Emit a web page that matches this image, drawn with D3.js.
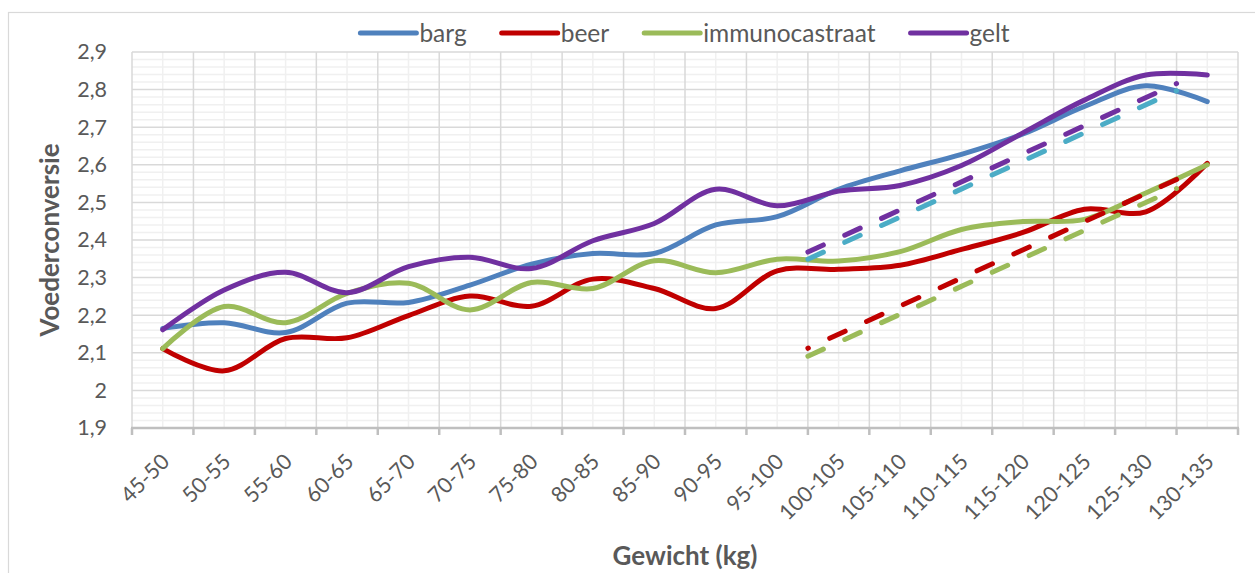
<!DOCTYPE html>
<html>
<head>
<meta charset="utf-8">
<script src="https://cdn.jsdelivr.net/npm/d3@7"></script>
<style>
	body { margin: 0; background: #fff; }
	svg { display: block; font-family: Lato, "Open Sans", sans-serif; }
</style>
</head>
<body>
<svg id="chart" width="1255" height="573"></svg>
<script>
const categories = ["45-50", "50-55", "55-60", "60-65", "65-70", "70-75", "75-80", "80-85", "85-90",
	"90-95", "95-100", "100-105", "105-110", "110-115", "115-120", "120-125", "125-130", "130-135"];

const barg = [2.165, 2.18, 2.154, 2.232, 2.234, 2.28, 2.336, 2.364, 2.364, 2.44, 2.462, 2.535,
	2.584, 2.628, 2.682, 2.755, 2.81, 2.768];
const beer = [2.111, 2.052, 2.138, 2.14, 2.199, 2.251, 2.224, 2.296, 2.271, 2.218, 2.318, 2.322,
	2.333, 2.375, 2.42, 2.482, 2.475, 2.604];
const immunocastraat = [2.111, 2.223, 2.18, 2.258, 2.285, 2.214, 2.287, 2.271, 2.345, 2.313, 2.349, 2.344,
	2.369, 2.428, 2.449, 2.455, 2.525, 2.6];
const gelt = [2.161, 2.267, 2.314, 2.26, 2.329, 2.354, 2.324, 2.398, 2.444, 2.535, 2.491, 2.53,
	2.545, 2.598, 2.685, 2.772, 2.839, 2.839];

// dashed lines: from start of "100-105" to end of "125-130"
const trendFrom = "100-105";
const trendTo = "125-130";
const trendGelt = [2.368, 2.816];
const trendBarg = [2.349, 2.797];
const trendBeer = [2.112, 2.561];
const trendImmuno = [2.091, 2.537];

const yTicks = [1.9, 2.0, 2.1, 2.2, 2.3, 2.4, 2.5, 2.6, 2.7, 2.8, 2.9];

const colors = {
	barg: "#4f81bd",
	beer: "#c00000",
	immunocastraat: "#9bbb59",
	gelt: "#7030a0",
	cyan: "#4bacc6"
};
const textColor = "#595959";

const series = [
	{ name: "barg", values: barg, color: colors.barg },
	{ name: "beer", values: beer, color: colors.beer },
	{ name: "immunocastraat", values: immunocastraat, color: colors.immunocastraat },
	{ name: "gelt", values: gelt, color: colors.gelt }
];

const trends = [
	{ values: trendGelt, color: colors.gelt, offset: 0 },
	{ values: trendBarg, color: colors.cyan, offset: 0 },
	{ values: trendBeer, color: colors.beer, offset: 16.5 },
	{ values: trendImmuno, color: colors.immunocastraat, offset: 0 }
];

const svg = d3.select("#chart");

const x = d3.scaleBand().domain(categories).range([132, 1238]);
const y = d3.scaleLinear().domain([1.9, 2.9]).range([428, 52]);
const mid = c => x(c) + x.bandwidth() / 2;
const [left, right] = x.range();

const locale = d3.formatLocale({ decimal: ",", thousands: ".", grouping: [3], currency: ["€", ""] });
const fmt = locale.format(".2~f");

// outer frame
svg.append("rect")
	.attr("x", 8.5).attr("y", 12.5)
	.attr("width", 1400).attr("height", 700)
	.attr("fill", "none")
	.attr("stroke", "#d9d9d9")
	.attr("stroke-width", 1.2);

// minor grid
const grid = svg.append("g");
const minorY = d3.range(0, 51).filter(i => i % 5 !== 0).map(i => 1.9 + i * 0.02);
grid.selectAll(null).data(minorY).enter().append("line")
	.attr("x1", left).attr("x2", right)
	.attr("y1", d => y(d)).attr("y2", d => y(d))
	.attr("stroke", "#f0f0f0").attr("stroke-width", 1.5);
grid.selectAll(null).data(categories).enter().append("line")
	.attr("x1", d => mid(d)).attr("x2", d => mid(d))
	.attr("y1", y(1.9)).attr("y2", y(2.9))
	.attr("stroke", "#f0f0f0").attr("stroke-width", 1.5);

// major grid
grid.selectAll(null).data(yTicks).enter().append("line")
	.attr("x1", left).attr("x2", right)
	.attr("y1", d => y(d)).attr("y2", d => y(d))
	.attr("stroke", "#d9d9d9").attr("stroke-width", 1.5);
const bounds = categories.map(c => x(c)).concat([right]);
grid.selectAll(null).data(bounds).enter().append("line")
	.attr("x1", d => d).attr("x2", d => d)
	.attr("y1", y(1.9)).attr("y2", y(2.9))
	.attr("stroke", "#d9d9d9").attr("stroke-width", 1.5);

// x axis line + ticks
svg.append("line")
	.attr("x1", left - 1).attr("x2", right + 1)
	.attr("y1", y(1.9)).attr("y2", y(1.9))
	.attr("stroke", "#bfbfbf").attr("stroke-width", 2.5);
svg.selectAll(null).data(bounds).enter().append("line")
	.attr("x1", d => d).attr("x2", d => d)
	.attr("y1", y(1.9)).attr("y2", y(1.9) + 7)
	.attr("stroke", "#bfbfbf").attr("stroke-width", 2.5);

// y labels
const yAxis = svg.append("g")
	.attr("transform", "translate(107,0)")
	.call(d3.axisLeft(y).tickValues(yTicks).tickFormat(fmt).tickSize(0).tickPadding(0));
yAxis.select(".domain").remove();
yAxis.selectAll("text")
	.attr("font-family", "Lato, sans-serif")
	.attr("font-size", 21.5)
	.attr("fill", textColor);

// x labels
const xAxis = svg.append("g")
	.attr("transform", `translate(0,${y(1.9)})`)
	.call(d3.axisBottom(x).tickSize(0));
xAxis.select(".domain").remove();
xAxis.selectAll("text")
	.attr("x", 0).attr("y", 0).attr("dy", 0)
	.attr("text-anchor", "end")
	.attr("transform", "translate(8,35) rotate(-45)")
	.attr("font-family", "Lato, sans-serif")
	.attr("font-size", 21.5)
	.attr("fill", textColor);

// axis titles
svg.append("text")
	.attr("transform", "translate(50,240) rotate(-90)")
	.attr("dy", "0.36em")
	.attr("text-anchor", "middle")
	.attr("font-weight", "bold")
	.attr("font-size", 26)
	.attr("fill", textColor)
	.text("Voederconversie");

svg.append("text")
	.attr("x", (left + right) / 2)
	.attr("y", 565)
	.attr("text-anchor", "middle")
	.attr("font-weight", "bold")
	.attr("font-size", 26)
	.attr("fill", textColor)
	.text("Gewicht (kg)");

// series
const line = d3.line()
	.x((d, i) => mid(categories[i]))
	.y(d => y(d))
	.curve(d3.curveCatmullRom.alpha(0.5));

svg.selectAll(null).data(series).enter().append("path")
	.attr("d", d => line(d.values))
	.attr("fill", "none")
	.attr("stroke", d => d.color)
	.attr("stroke-width", 5)
	.attr("stroke-linecap", "round")
	.attr("stroke-linejoin", "round");

// dashed lines
const trendX = [x(trendFrom), x(trendTo) + x.bandwidth()];
const trendLine = d3.line()
	.x((d, i) => trendX[i])
	.y(d => y(d));

svg.selectAll(null).data(trends).enter().append("path")
	.attr("d", d => trendLine(d.values))
	.attr("fill", "none")
	.attr("stroke", d => d.color)
	.attr("stroke-width", 5)
	.attr("stroke-linecap", "round")
	.attr("stroke-dasharray", "17 23.5")
	.attr("stroke-dashoffset", d => d.offset);

// legend
const legend = svg.append("g");
const sampleLen = 56, sampleGap = 3, itemGap = 35, legendY = 33;
const items = legend.selectAll(null).data(series).enter().append("g");
items.append("line")
	.attr("x1", 0).attr("x2", sampleLen)
	.attr("y1", legendY).attr("y2", legendY)
	.attr("stroke", d => d.color)
	.attr("stroke-width", 5)
	.attr("stroke-linecap", "round");
items.append("text")
	.attr("x", sampleLen + sampleGap)
	.attr("y", legendY)
	.attr("dy", "0.35em")
	.attr("font-size", 24.5)
	.attr("fill", textColor)
	.text(d => d.name);

const widths = [];
items.each((d, i, n) => {
	const w = d3.select(n[i]).select("text").node().getComputedTextLength();
	widths.push(sampleLen + sampleGap + w);
});
const total = d3.sum(widths) + itemGap * (widths.length - 1);
let cursor = (left + right) / 2 - total / 2;
items.each((d, i, n) => {
	d3.select(n[i]).attr("transform", `translate(${cursor},0)`);
	cursor += widths[i] + itemGap;
});
</script>
</body>
</html>
